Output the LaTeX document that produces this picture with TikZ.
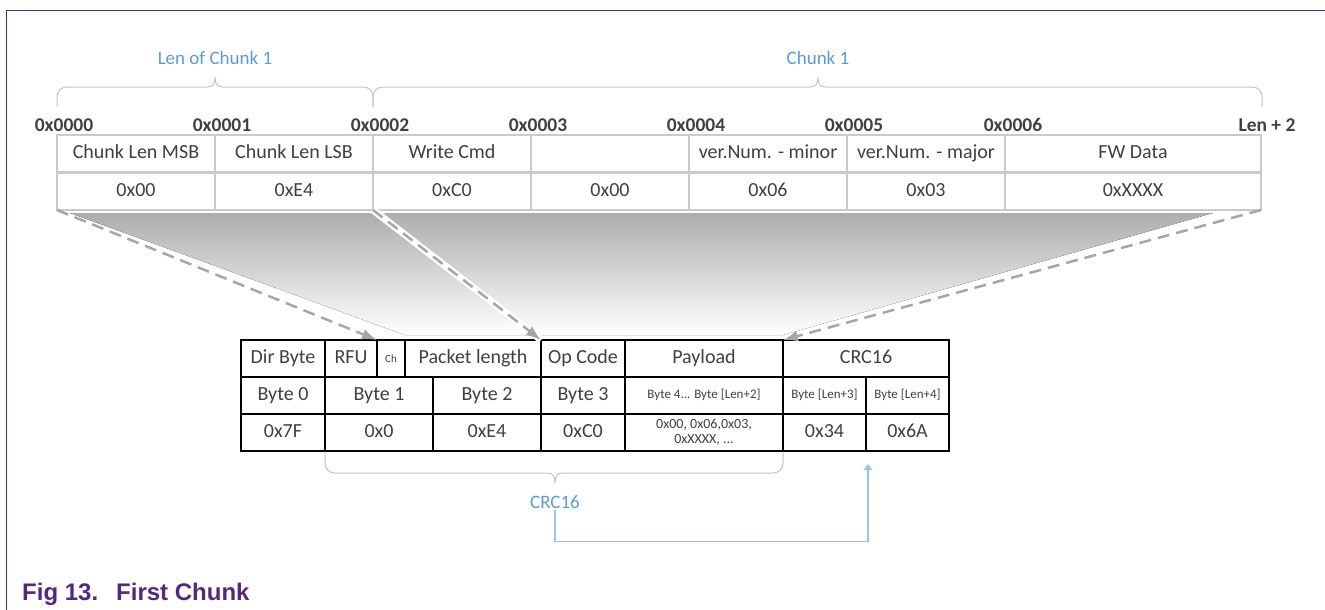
\documentclass[tikz,border=0pt]{standalone}
\usepackage{fontspec}
\setmainfont{Carlito}
\newfontfamily\capfont{Liberation Sans}
\usepackage{tikz}
\usetikzlibrary{arrows.meta}
\usetikzlibrary{positioning}
\usetikzlibrary{backgrounds}

\definecolor{txtgray}{HTML}{404040}
\definecolor{rulegray}{HTML}{C8CACD}
\definecolor{hintblue}{HTML}{5B9BD5}
\definecolor{linkblue}{HTML}{9DC3E6}
\definecolor{arrowgray}{HTML}{A6A6A6}
\definecolor{bracegray}{HTML}{C4C4C4}
\definecolor{figpurple}{HTML}{55287F}

\begin{document}
\begin{tikzpicture}[x=1pt,y=-1pt,
    topcell/.style={draw=rulegray,line width=2.5pt,fill=white,minimum height=37.5pt,
      inner sep=0pt,outer sep=0pt,text=txtgray,font=\fontsize{20}{24}\selectfont,
      text height=14pt,text depth=4pt},
    pktbox/.style={draw=black,line width=2.5pt,fill=white,minimum height=37pt,
      inner sep=0pt,outer sep=0pt,text=txtgray,font=\fontsize{20}{24}\selectfont},
    pktcell/.style={pktbox,text height=14pt,text depth=4pt},
    small/.style={font=\fontsize{13}{15}\selectfont,text height=9pt,text depth=3pt},
    addr/.style={anchor=base,inner sep=0pt,text=txtgray,font=\fontsize{19.5}{22}\selectfont\bfseries},
    hint/.style={anchor=base,inner sep=2pt,text=hintblue,font=\fontsize{19}{22}\selectfont},
    bracket/.style={draw=bracegray,line width=1pt},
    mapline/.style={draw=arrowgray,line width=2.5pt,dash pattern=on 12pt off 7pt,
      -{Latex[length=15pt,width=11pt]}},
    halo/.style={preaction={draw=white,line width=7pt,solid,-}},
    feedback/.style={draw=linkblue,line width=1.3pt,-{Triangle[length=6pt,width=9pt]}}]
  \useasboundingbox (0,0) rectangle (1325,610);

  % frame
  \draw[figpurple,line width=1pt] (6,610) -- (6,11) -- (1325,11);

  % chunk layout
  \node[topcell,anchor=north west,minimum width=158pt] (msb) at (57,135) {Chunk Len MSB};
  \node[topcell,minimum width=158pt] (lsb) [right=0pt of msb] {Chunk Len LSB};
  \node[topcell,minimum width=158pt] (wcmd) [right=0pt of lsb] {Write Cmd};
  \node[topcell,minimum width=158pt] (blank) [right=0pt of wcmd] {};
  \node[topcell,minimum width=158pt] (vmin) [right=0pt of blank] {ver.Num. - minor};
  \node[topcell,minimum width=158pt] (vmaj) [right=0pt of vmin] {ver.Num. - major};
  \node[topcell,minimum width=256pt] (fw) [right=0pt of vmaj] {FW Data};

  \node[topcell,minimum width=158pt] (vmsb) [below=0pt of msb] {0x00};
  \node[topcell,minimum width=158pt] (vlsb) [below=0pt of lsb] {0xE4};
  \node[topcell,minimum width=158pt] (vwcmd) [below=0pt of wcmd] {0xC0};
  \node[topcell,minimum width=158pt] (vblank) [below=0pt of blank] {0x00};
  \node[topcell,minimum width=158pt] (vvmin) [below=0pt of vmin] {0x06};
  \node[topcell,minimum width=158pt] (vvmaj) [below=0pt of vmaj] {0x03};
  \node[topcell,minimum width=256pt] (vfw) [below=0pt of fw] {0xXXXX};

  % addresses
  \node[addr] (a0) at ([xshift=7pt,yshift=4pt]msb.north west) {0x0000};
  \node[addr] (a1) at ([xshift=7pt,yshift=4pt]lsb.north west) {0x0001};
  \node[addr] (a2) at ([xshift=7pt,yshift=4pt]wcmd.north west) {0x0002};
  \node[addr] (a3) at ([xshift=7pt,yshift=4pt]blank.north west) {0x0003};
  \node[addr] (a4) at ([xshift=7pt,yshift=4pt]vmin.north west) {0x0004};
  \node[addr] (a5) at ([xshift=7pt,yshift=4pt]vmaj.north west) {0x0005};
  \node[addr] (a6) at ([xshift=8pt,yshift=4pt]fw.north west) {0x0006};
  \node[addr] (aend) at ([xshift=6pt,yshift=4pt]fw.north east) {Len + 2};

  % braces over the chunk
  \draw[bracket] (57,107) -- (57,97) .. controls (57,91) and (61,87) .. (67,87) -- (207,87)
    .. controls (213,87) and (215,84) .. (215,77) .. controls (215,84) and (217,87) .. (223,87)
    -- (363,87) .. controls (369,87) and (373,91) .. (373,97) -- (373,107);
  \draw[bracket] (373,107) -- (373,97) .. controls (373,91) and (377,87) .. (383,87) -- (810,87)
    .. controls (816,87) and (818,84) .. (818,77) .. controls (818,84) and (820,87) .. (826,87)
    -- (1252,87) .. controls (1258,87) and (1262,91) .. (1262,97) -- (1262,107);
  \node[hint] (lenlbl) at (215,65) {Len of Chunk 1};
  \node[hint] (chunklbl) at (818,65) {Chunk 1};

  % packet
  \node[pktcell,anchor=north west,minimum width=84pt] (dir) at (241,340) {Dir Byte};
  \node[pktcell,minimum width=52pt] (rfu) [right=0pt of dir] {RFU};
  \node[pktcell,minimum width=28pt,font=\fontsize{11}{13}\selectfont,text height=8pt,text depth=1pt] (ch) [right=0pt of rfu] {Ch};
  \node[pktcell,minimum width=136pt] (plen) [right=0pt of ch] {Packet length};
  \node[pktcell,minimum width=84pt] (opc) [right=0pt of plen] {Op Code};
  \node[pktcell,minimum width=158pt] (pay) [right=0pt of opc] {Payload};
  \node[pktcell,minimum width=166pt] (crc) [right=0pt of pay] {CRC16};

  \node[pktcell,minimum width=84pt] (b0) [below=0pt of dir] {Byte 0};
  \node[pktcell,minimum width=108pt] (b1) [right=0pt of b0] {Byte 1};
  \node[pktcell,minimum width=108pt] (b2) [right=0pt of b1] {Byte 2};
  \node[pktcell,minimum width=84pt] (b3) [right=0pt of b2] {Byte 3};
  \node[pktcell,minimum width=158pt,small] (bpay) [right=0pt of b3] {Byte 4... Byte [Len+2]};
  \node[pktcell,minimum width=83pt,small] (bcrc1) [right=0pt of bpay] {Byte [Len+3]};
  \node[pktcell,minimum width=83pt,small] (bcrc2) [right=0pt of bcrc1] {Byte [Len+4]};

  \node[pktcell,minimum width=84pt] (v7f) [below=0pt of b0] {0x7F};
  \node[pktcell,minimum width=108pt] (v0) [below=0pt of b1] {0x0};
  \node[pktcell,minimum width=108pt] (ve4) [below=0pt of b2] {0xE4};
  \node[pktcell,minimum width=84pt] (vc0) [below=0pt of b3] {0xC0};
  \node[pktbox,minimum width=158pt,align=center,font=\fontsize{14}{15}\selectfont] (vpay) [below=0pt of bpay] {0x00, 0x06,0x03,\\0xXXXX, ...};
  \node[pktcell,minimum width=83pt] (v34) [below=0pt of bcrc1] {0x34};
  \node[pktcell,minimum width=83pt] (v6a) [below=0pt of bcrc2] {0x6A};

  % mapping
  \begin{scope}[on background layer]
    \fill[top color=black!32,bottom color=white] (70,213) -- (1213,213) -- (783,335) -- (405,335) -- cycle;
  \end{scope}
  \path (vmsb.south west) edge[mapline] (ch.north west)
        (vwcmd.south west) edge[mapline,halo] (opc.north west)
        (vfw.south east) edge[mapline] (crc.north west);

  % crc range
  \draw[bracket] (325,453) -- (325,463) .. controls (325,469) and (329,473) .. (335,473) -- (547,473)
    .. controls (553,473) and (555,476) .. (555,483) .. controls (555,476) and (557,473) .. (563,473)
    -- (773,473) .. controls (779,473) and (783,469) .. (783,463) -- (783,453);
  \node[hint] (crclbl) at (555,508) {CRC16};
  \coordinate (crcin) at ([xshift=2pt,yshift=-13pt]v6a.south west);
  \draw[feedback] (crclbl.south) -- ++(0,31) -| (crcin);

  % caption
  \node[anchor=base west,inner sep=0pt,text=figpurple,font=\capfont\bfseries\fontsize{24}{28}\selectfont]
    (cap) at (22,600) {Fig 13.\hspace{18pt}First Chunk};
\end{tikzpicture}
\end{document}
